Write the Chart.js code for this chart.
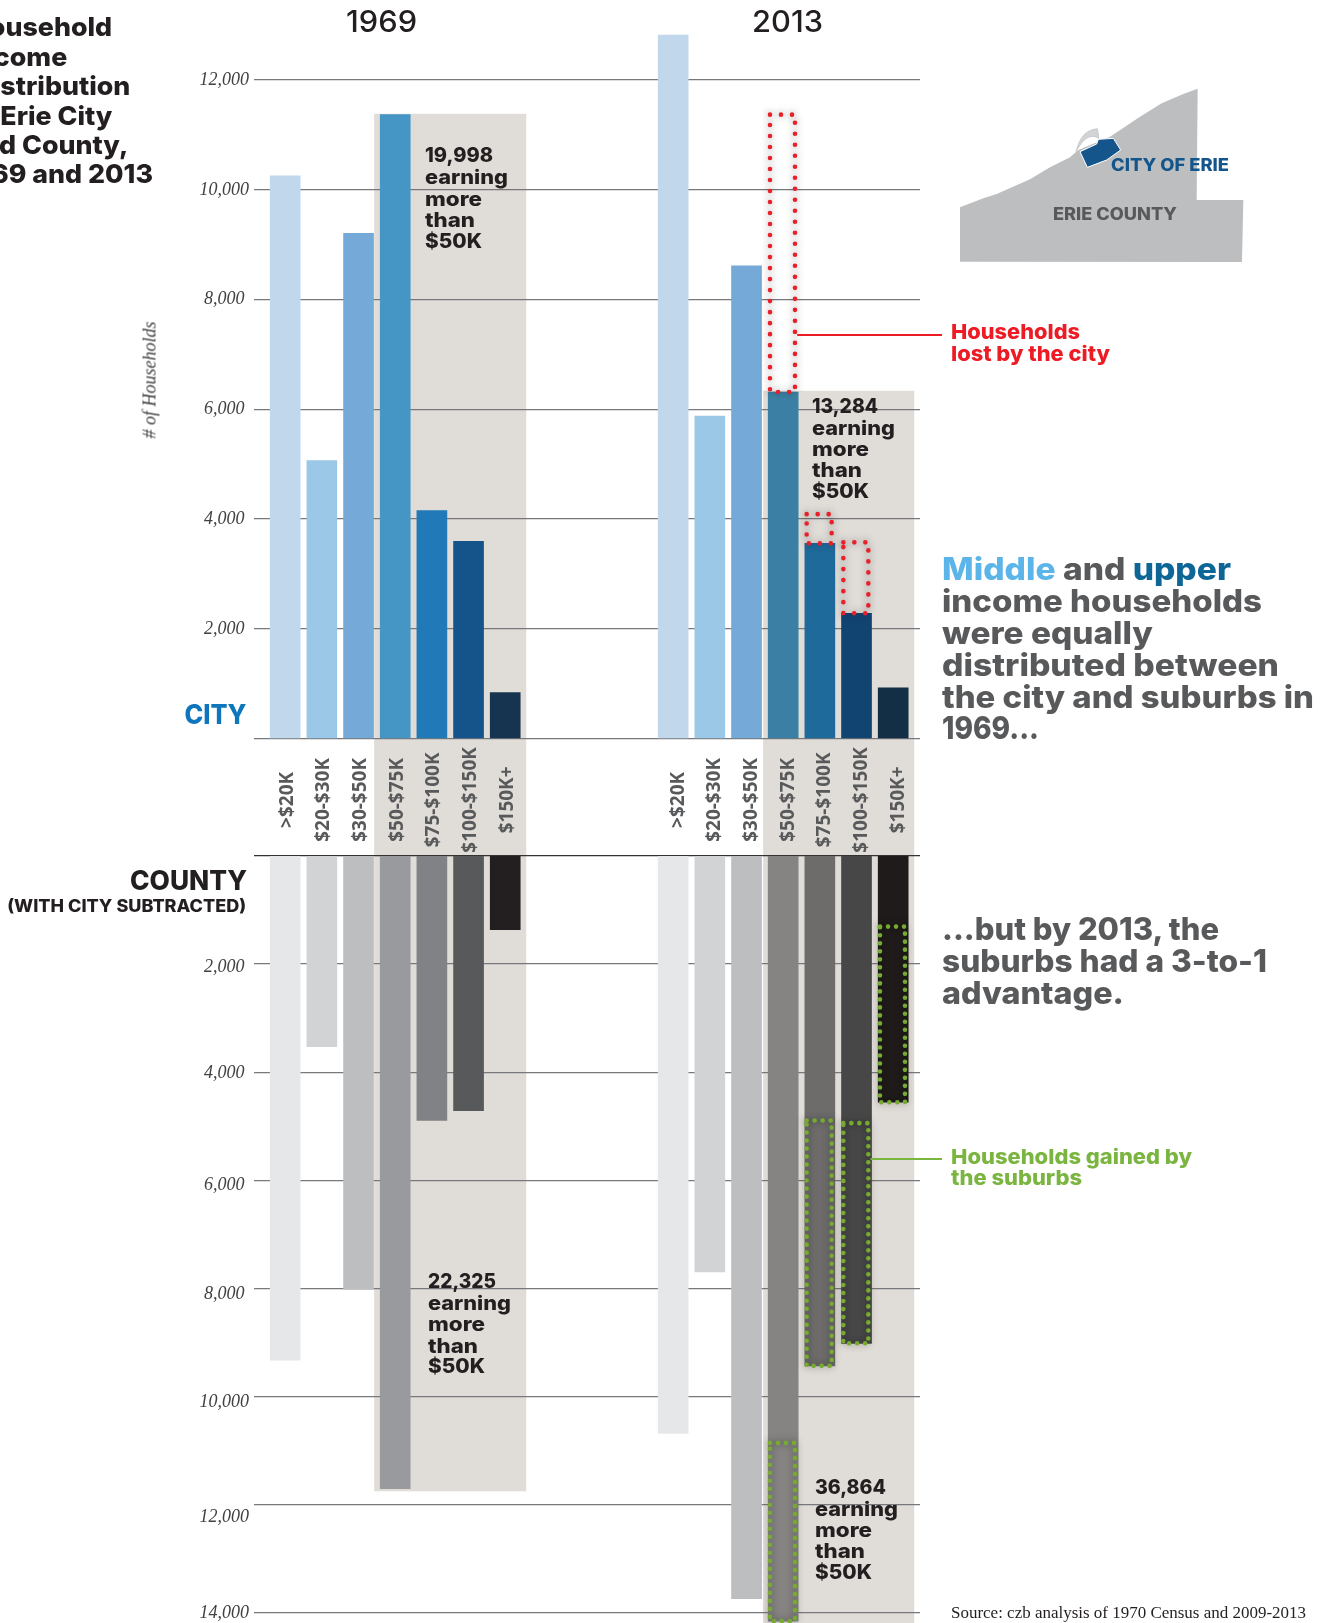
<!DOCTYPE html>
<html><head><meta charset="utf-8">
<style>
html,body{margin:0;padding:0;background:#fff;width:1328px;height:1623px;overflow:hidden}
#wrap{position:relative;width:1328px;height:1623px;overflow:hidden}
canvas{position:absolute;left:0;top:0}
.t{position:absolute;white-space:nowrap;line-height:1}
svg{position:absolute;left:950px;top:70px}
</style>
<script src="https://cdn.jsdelivr.net/npm/chart.js@4"></script>
</head><body><div id="wrap">
<canvas id="c" width="1328" height="1623"></canvas>
<svg width="300" height="200" viewBox="0 0 900 600">
<polygon fill="#bcbec0" points="30,412 100,385 140,372 240,328 300,292 360,262 385,240 480,200 570,140 635,100 700,72 743,56 740,390 880,390 876,576 30,575"/>
<path d="M378,245 C388,205 405,180 442,176 L447,205 C420,190 400,205 378,245 Z" fill="#d1d3d4" stroke="#bcbec0" stroke-width="2"/>
<polygon fill="#14558b" stroke="#fff" stroke-width="3" points="390,245 440,222 445,208 490,205 512,240 470,270 412,292"/>
</svg>
</div>
<script>
const categories = ['>$20K','$20-$30K','$30-$50K','$50-$75K','$75-$100K','$100-$150K','$150K+'];
const city1969 = [10252,5066,9208,11369,4153,3595,839];
const city2013 = [12821,5876,8613,6314,3557,2283,923];
const county1969 = [9325,3528,8016,11700,4895,4711,1367];
const county2013 = [10682,7696,13735,14150,9431,9014,4556];
const cityTicks = [0,2000,4000,6000,8000,10000,12000];
const countyTicks = [0,2000,4000,6000,8000,10000,12000,14000];
const lostIndex = [3,4,5];
const lostFrom = [11369,4090,3576];
const gainedIndex = [3,4,5,6];
const gainedFrom = [10856,4895,4943,1309];
const band1969Top = 11385, band1969Bottom = 11750;
const band2013Top = 6337;

const GROUP_OFFSET = 10.58;
const countyLabelNudge = [0,3,1,5,6,6,12,0];
const colCity1969 = ['#c1d8ec','#9bc8e6','#74a9d8','#4595c5','#217ab7','#14548a','#16344f'];
const colCity2013 = ['#c1d8ec','#9bc8e6','#74a9d8','#3b80a4','#1e6a9b','#124472','#132f45'];
const colCounty1969 = ['#e6e7e8','#d1d3d4','#bcbec0','#999a9d','#808285','#58595b','#231f20'];
const colCounty2013 = ['#e6e7e8','#d1d3d4','#bcbec0','#858483','#6d6c6b','#474747','#1e1b1a'];

const bold = 'Inter';
const notes = [
 {t:'Household',r:112,y:26.5,s:26,sx:1.03,c:'#231f20'},
 {t:'Income',r:67,y:56,s:26,sx:1.03,c:'#231f20'},
 {t:'Distribution',r:130,y:85.7,s:26,sx:1.03,c:'#231f20'},
 {t:'in Erie City',r:112,y:114.8,s:26,sx:1.03,c:'#231f20'},
 {t:'and County,',r:128,y:144.4,s:26,sx:1.03,c:'#231f20'},
 {t:'1969 and 2013',r:152.5,y:173.5,s:26,sx:1.03,c:'#231f20'},
 {t:'1969',cx:382,y:21.4,s:30,w:71,c:'#231f20',wt:500},
 {t:'2013',cx:787.7,y:21.4,s:30,w:71,c:'#231f20',wt:500},
 {t:'CITY',r:246.5,y:714,s:27,w:62,c:'#0e76bc'},
 {t:'COUNTY',r:246.5,y:880,s:27,w:117,c:'#231f20'},
 {t:'(WITH CITY SUBTRACTED)',r:246.5,y:905.5,s:17,w:239,c:'#231f20'},
 {t:'19,998',x:424.8,y:154.6,s:20,w:68,c:'#231f20'},
 {t:'earning',x:424.8,y:176,s:20,w:83,c:'#231f20'},
 {t:'more',x:424.8,y:198,s:20,w:57,c:'#231f20'},
 {t:'than',x:424.8,y:219,s:20,w:50,c:'#231f20'},
 {t:'$50K',x:424.8,y:240,s:20,w:57,c:'#231f20'},
 {t:'13,284',x:812,y:405.6,s:20,w:66,c:'#231f20'},
 {t:'earning',x:812,y:427,s:20,w:83,c:'#231f20'},
 {t:'more',x:812,y:448,s:20,w:57,c:'#231f20'},
 {t:'than',x:812,y:469.4,s:20,w:50,c:'#231f20'},
 {t:'$50K',x:812,y:490.3,s:20,w:57,c:'#231f20'},
 {t:'22,325',x:427.7,y:1280.8,s:20,w:68,c:'#231f20'},
 {t:'earning',x:427.7,y:1302.3,s:20,w:83,c:'#231f20'},
 {t:'more',x:427.7,y:1323.3,s:20,w:57,c:'#231f20'},
 {t:'than',x:427.7,y:1344.9,s:20,w:50,c:'#231f20'},
 {t:'$50K',x:427.7,y:1365.8,s:20,w:57,c:'#231f20'},
 {t:'36,864',x:815.2,y:1486.6,s:20,w:71,c:'#231f20'},
 {t:'earning',x:815.2,y:1508,s:20,w:83,c:'#231f20'},
 {t:'more',x:815.2,y:1529,s:20,w:57,c:'#231f20'},
 {t:'than',x:815.2,y:1550.6,s:20,w:50,c:'#231f20'},
 {t:'$50K',x:815.2,y:1571.6,s:20,w:57,c:'#231f20'},
 {t:'Households',x:950.6,y:331.6,s:20.5,w:129,c:'#ed1c24'},
 {t:'lost by the city',x:950.6,y:353.6,s:20.5,w:159,c:'#ed1c24'},
 {t:'Households gained by',x:950.6,y:1157,s:20.5,w:241,c:'#7ab53f'},
 {t:'the suburbs',x:950.6,y:1178,s:20.5,w:131,c:'#7ab53f'},
 {t:'income households',x:941.5,y:601,s:31,w:320,c:'#58595b'},
 {t:'were equally',x:941.5,y:633,s:31,w:211,c:'#58595b'},
 {t:'distributed between',x:941.5,y:665,s:31,w:337,c:'#58595b'},
 {t:'the city and suburbs in',x:941.5,y:697,s:31,w:372,c:'#58595b'},
 {t:'1969...',x:941.5,y:728.6,s:31,w:97,c:'#58595b'},
 {t:'...but by 2013, the',x:941.5,y:929,s:31,w:277,c:'#58595b'},
 {t:'suburbs had a 3-to-1',x:941.5,y:961,s:31,w:325,c:'#58595b'},
 {t:'advantage.',x:941.5,y:993,s:31,w:182,c:'#58595b'},
 {t:'CITY OF ERIE',x:1111,y:165,s:17,w:118,c:'#14558b'},
 {t:'ERIE COUNTY',x:1053,y:214,s:17,w:124,c:'#58595b'},
 {t:'Source: czb analysis of 1970 Census and 2009-2013',x:950.7,y:1612.6,s:16,w:355,c:'#231f20',f:'"Liberation Serif"',wt:400}
];
const richLine = {x:941.5,y:569,s:31,w:289,parts:[['Middle','#5cb5e8'],[' and ','#58595b'],['upper','#0e6696']]};

const wrap = document.getElementById('wrap');
function place(el,n){
  el.style.fontFamily = n.f || bold;
  el.style.fontWeight = n.wt || 800;
  el.style.fontSize = n.s+'px';
  el.style.top = (n.y-n.s*(n.s>=30?0.52:0.47))+'px';
  wrap.appendChild(el);
  const m = el.getBoundingClientRect().width;
  const k = n.w ? n.w/m : (n.sx||1);
  if(n.x!==undefined){el.style.left=n.x+'px';el.style.transformOrigin='left center';}
  else if(n.r!==undefined){el.style.left=(n.r-m)+'px';el.style.transformOrigin='right center';}
  else {el.style.left=(n.cx-m/2)+'px';el.style.transformOrigin='center center';}
  el.style.transform='scaleX('+k+')';
}
function drawNotes(){
  notes.forEach(n=>{
    const el=document.createElement('div');el.className='t';el.textContent=n.t;el.style.color=n.c;place(el,n);
  });
  const el=document.createElement('div');el.className='t';
  richLine.parts.forEach(p=>{const s=document.createElement('span');s.textContent=p[0];s.style.color=p[1];s.style.whiteSpace='pre';el.appendChild(s);});
  place(el,richLine);
  const yt=document.createElement('div');yt.className='t';yt.textContent='# of Households';
  yt.style.cssText+='font:italic 18px "Liberation Serif";color:#414042;left:150px;top:380px;transform:translate(-50%,-50%) rotate(-90deg);';
  wrap.appendChild(yt);
}

const pts = (vals,off)=>vals.map((v,i)=>({x:i+off,y:v}));
const mkSet = (label,vals,off,axis,cols)=>({label,data:pts(vals,off),yAxisID:axis,backgroundColor:cols,borderWidth:0,grouped:false,barThickness:30});

const backdrop = {
  id:'backdrop',
  beforeDraw(ch){
    const {ctx,scales:{x,yCity,yCounty},chartArea:a}=ch;
    const L=x.getPixelForValue(3)-21, R=x.getPixelForValue(6)+21;
    const L2=x.getPixelForValue(3+GROUP_OFFSET)-20, R2=x.getPixelForValue(6+GROUP_OFFSET)+21;
    ctx.save();ctx.fillStyle='#e0dcd7';
    const t1=yCity.getPixelForValue(band1969Top), b1=yCounty.getPixelForValue(band1969Bottom);
    ctx.fillRect(L,t1,R-L,b1-t1);
    const t2=yCity.getPixelForValue(band2013Top);
    ctx.fillRect(L2,t2,R2-L2,a.bottom-t2);
    ctx.restore();
  }
};
const overlays = {
  id:'overlays',
  afterDatasetsDraw(ch){
    const {ctx,scales:{x,yCity,yCounty}}=ch;
    function dotted(i,v0,v1,scale,color,gap){
      const cx=x.getPixelForValue(i+GROUP_OFFSET)-0.7;
      const y0=scale.getPixelForValue(v0), y1=scale.getPixelForValue(v1);
      ctx.save();
      ctx.strokeStyle=color;ctx.lineWidth=4.6;ctx.lineCap='round';ctx.setLineDash([0.01,gap]);
      ctx.shadowColor='rgba(0,0,0,0.5)';ctx.shadowBlur=7;
      ctx.strokeRect(cx-12.5,Math.min(y0,y1),25,Math.abs(y1-y0));
      ctx.restore();
    }
    lostIndex.forEach((i,k)=>dotted(i,lostFrom[k],city2013[i],yCity,'#e8202a',11));
    gainedIndex.forEach((i,k)=>dotted(i,gainedFrom[k],county2013[i],yCounty,'#76ab2f',8));
    ctx.save();ctx.lineWidth=2;
    ctx.strokeStyle='#ed1c24';ctx.beginPath();ctx.moveTo(x.getPixelForValue(3+GROUP_OFFSET)+14,335);ctx.lineTo(942,335);ctx.stroke();
    ctx.strokeStyle='#7ab53f';ctx.beginPath();ctx.moveTo(x.getPixelForValue(5+GROUP_OFFSET)+14,1159);ctx.lineTo(942,1159);ctx.stroke();
    ctx.restore();
  }
};
const gridOpt = dark=>({drawTicks:false,lineWidth:1.2,color:c=>(dark&&c.tick&&c.tick.value===0)?'#333333':'#77787b'});
const tickFont = {family:'"Liberation Serif"',size:18,style:'italic'};
function fitY(s){s.width=0;s.paddingTop=0;s.paddingBottom=0;s.paddingLeft=0;s.paddingRight=0;s._computeLabelArea=()=>null;}
function nudgeLabels(s,fn){
  const orig=s._computeLabelItems;
  if(orig._nudged) return;
  const w=function(a){const items=orig.call(this,a);items.forEach((it,i)=>fn(it.options.translation,i));return items;};
  w._nudged=true;s._computeLabelItems=w;
}

new Chart(document.getElementById('c'),{
  type:'bar',
  data:{datasets:[
    mkSet('City 1969',city1969,0,'yCity',colCity1969),
    mkSet('City 2013',city2013,GROUP_OFFSET,'yCity',colCity2013),
    mkSet('County 1969',county1969,0,'yCounty',colCounty1969),
    mkSet('County 2013',county2013,GROUP_OFFSET,'yCounty',colCounty2013)
  ]},
  options:{
    responsive:false,animation:false,devicePixelRatio:1,
    layout:{padding:{left:254,right:408,top:0,bottom:0}},
    plugins:{legend:{display:false},title:{display:false},tooltip:{enabled:false}},
    scales:{
      x:{type:'linear',offset:false,min:-0.851,max:17.311,position:{yCity:-971},
        grid:{display:false},border:{display:false},
        afterBuildTicks(s){s.ticks=categories.concat(categories).map((c,i)=>({value:i<7?i:i-7+GROUP_OFFSET}));},
        afterFit(s){s.paddingLeft=0;s.paddingRight=0;s._getXAxisLabelAlignment=()=>'center';s._computeLabelArea=()=>null;
          nudgeLabels(s,(tr,i)=>{tr[0]+=i<7?2:5;});},
        ticks:{autoSkip:false,minRotation:90,maxRotation:90,padding:0,color:'#58595b',
          font:{family:'"Open Sans"',weight:'700',size:19},
          callback:(v,i)=>categories[i%7]}},
      yCity:{type:'linear',position:'left',min:-16115,max:13458,
        grid:gridOpt(false),border:{display:false},
        afterFit:fitY,
        afterBuildTicks(s){s.ticks=cityTicks.map(v=>({value:v}));},
        ticks:{padding:5,crossAlign:'center',font:tickFont,color:'#414042',callback:v=>v===0?'':v.toLocaleString('en-US')}},
      yCounty:{type:'linear',position:'left',reverse:true,min:-15825,max:14186,
        grid:gridOpt(true),border:{display:false},
        afterFit(s){fitY(s);nudgeLabels(s,(tr,i)=>{tr[1]+=countyLabelNudge[i];});},
        afterBuildTicks(s){s.ticks=countyTicks.map(v=>({value:v}));},
        ticks:{padding:5,crossAlign:'center',font:tickFont,color:'#414042',callback:v=>v===0?'':v.toLocaleString('en-US')}}
    }
  },
  plugins:[backdrop,overlays]
});
document.fonts.ready.then(drawNotes);
</script>
</body></html>
